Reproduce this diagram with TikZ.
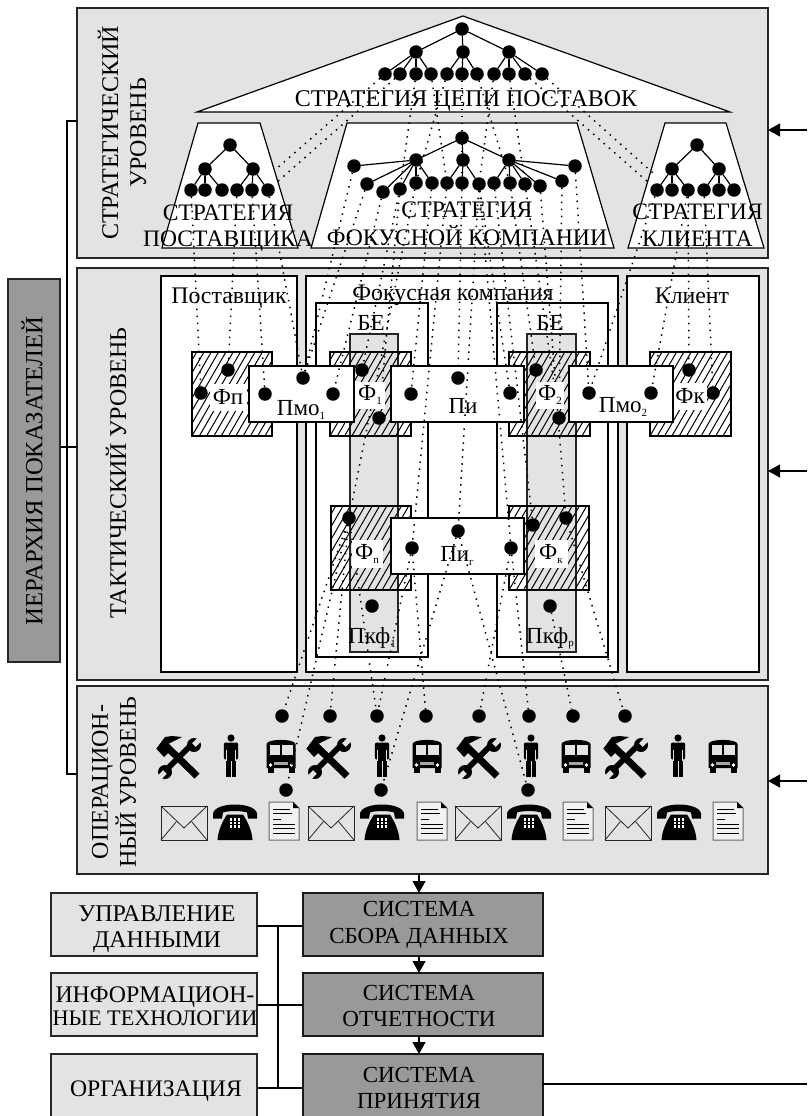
\documentclass[tikz,border=0pt]{standalone}
\usepackage{fontspec}
\setmainfont{Liberation Serif}
\usetikzlibrary{arrows.meta}
\pgfdeclarelayer{la}\pgfdeclarelayer{lb}\pgfdeclarelayer{lc}
\pgfsetlayers{la,lb,lc,main}
\definecolor{pang}{HTML}{E3E3E3}
\definecolor{darkg}{HTML}{999999}
\newcommand{\sbs}[1]{\raisebox{-3.5pt}{\fontsize{11}{11}\selectfont #1}}
\newcommand{\fs}[1]{\fontsize{#1}{#1}\selectfont}
\tikzset{
  box/.style={anchor=north west,inner sep=0,outer sep=0},
  panel/.style={box,draw=black!85,fill=pang,line width=1.5pt},
  whitebox/.style={box,draw=black,fill=white,line width=1.2pt},
  barbox/.style={box,draw=black!85,fill=pang,line width=1.2pt},
  hatchbox/.style={box,draw=black,line width=1.2pt,path picture={
    \foreach \k in {-8,...,12}{\draw[black,line width=1pt] ([xshift=\k*7.3pt]path picture bounding box.south west) -- ++(48.5,-84);}}},
  trapez/.style={draw=black,fill=white,line width=1.2pt},
  dot/.style={circle,fill=black,inner sep=0,outer sep=0,minimum size=13.5pt},
  link/.style={line width=1.5pt,draw=black,dash pattern=on 1.5pt off 5.5pt},
  tree/.style={line width=1.2pt,draw=black},
  solid line/.style={line width=1.2pt,draw=black},
  flow/.style={line width=1.2pt,draw=black,-{Triangle[length=12pt,width=13pt]}},
  txt/.style={inner sep=0,outer sep=0,align=center,font=\fs{23}},
  patch/.style={fill=white,inner sep=0,minimum width=31pt,minimum height=27pt,align=center,font=\fs{23}},
  lightbox/.style={box,draw=black!85,fill=pang,line width=1.2pt},
  darkbox/.style={box,draw=black!90,fill=darkg,line width=1.2pt},
  toolicon/.pic={
    \fill[black] (-9.5,-14.5) -- (21.5,15.5) -- (16.5,20.5) -- (-14.5,-9.5) -- cycle;
    \fill[black] (-21.7,-9.3) -- (-14,-1) -- (-7,-8) -- (-10,-14) -- (4,-21) -- (-6,-22) -- (-13,-21) -- cycle;
    \fill[black] (-15,11) -- (11,-15) -- (15,-11) -- (-11,15) -- cycle;
    \fill[black] (16,-13) circle[radius=7pt];
    \fill[black] (-13,14) circle[radius=7pt];
    \fill[pang] (14.2,-14.8) -- (17.8,-11.2) -- (25,-18.4) -- (21.4,-22) -- cycle;
    \fill[pang] (-11.2,15.8) -- (-14.8,12.2) -- (-22,19.4) -- (-18.4,23) -- cycle;
  },
  personicon/.pic={
    \fill[black] (0,-17.5) circle[radius=3.6pt];
    \fill[black,rounded corners=2pt] (-7.2,-13) rectangle (7.2,4);
    \fill[black] (-4.6,0) rectangle (4.6,21.5);
    \draw[pang,line width=.7pt] (-4.4,-6) -- (-4.4,5);
    \draw[pang,line width=.7pt] (4.4,-6) -- (4.4,5);
    \draw[pang,line width=.8pt] (0,5) -- (0,21.5);
  },
  busicon/.pic={
    \fill[black] (-14.5,-12) .. controls (-14,-17.5) and (14,-17.5) .. (14.5,-12) -- (14.5,12) -- (-14.5,12) -- cycle;
    \fill[black] (-13.5,11) rectangle (-7.5,16.5);
    \fill[black] (7.5,11) rectangle (13.5,16.5);
    \fill[pang] (-11.5,-11) rectangle (-1,-1.5);
    \fill[pang] (1,-11) rectangle (11.5,-1.5);
    \fill[black!35] (-7,6) rectangle (7,9);
    \fill[white] (-10.5,9) circle[radius=1.8pt];
    \fill[white] (10.5,9) circle[radius=1.8pt];
  },
  envicon/.pic={
    \draw[black!85,line width=1pt] (-23,-17) rectangle (23,17);
    \draw[black!85,line width=.8pt] (-23,-17) -- (0,5) -- (23,-17);
    \draw[black!85,line width=.8pt] (-23,17) -- (-7.5,-1.5);
    \draw[black!85,line width=.8pt] (23,17) -- (7.5,-1.5);
  },
  phoneicon/.pic={
    \fill[black] (-22,-9) .. controls (-20,-21) and (20,-21) .. (22,-9) -- (22,-4) -- (13,-4) -- (12,-10) .. controls (6,-12) and (-6,-12) .. (-12,-10) -- (-13,-4) -- (-22,-4) -- cycle;
    \fill[black] (-8,-8) -- (8,-8) .. controls (12,-2) and (17,8) .. (17.5,17.5) -- (-17.5,17.5) .. controls (-17,8) and (-12,-2) .. (-8,-8) -- cycle;
    \foreach \i in {-4,0,4}{\foreach \j in {-3,0.5,4}{\fill[white] (\i-1.2,\j-1.1) rectangle (\i+1.2,\j+1.1);}}
  },
  docicon/.pic={
    \draw[black!60,fill=black!5,line width=1pt] (-15,-19) -- (9,-19) -- (15,-13) -- (15,19) -- (-15,19) -- cycle;
    \fill[black] (9,-19) -- (15,-13) -- (9,-13) -- cycle;
    \foreach \y/\e in {-12/6,-7.3/8,-2/-3,3.7/11,7.7/11,12/11}{\draw[black,line width=1pt] (-11,\y) -- (\e,\y);}
  }
}
\begin{document}
\begin{tikzpicture}[x=1pt,y=-1pt]
\useasboundingbox (0,0) rectangle (807,1116);

% ---- all dots
\foreach \n/\x/\y in {
  c0/462/29, ca/416/52, cb/463/52, cc/509/52,
  c1/385/74,c2/400/74,c3/416/74,c4/431/74,c5/447/74,c6/462/74,c7/477/74,c8/494/74,c9/509/74,c10/525/74,c11/542/74,
  s0/230/145, sa/205/169, sb/253/169,
  s1/191/190,s2/205/190,s3/222/190,s4/237/190,s5/252/190,s6/268/190,
  k0/697/145, ka/672/169, kb/719/169,
  k1/657/190,k2/672/190,k3/688/190,k4/704/190,k5/719/190,k6/734/190,
  f0/462/138, fx/416/160, fy/463/160, fz/509/160,
  fA/354/166,fB/367/184,fC/383/192,fD/400/189,fE/416/183,fF/432/183,fG/447/183,fH/462/183,fI/479/184,fJ/494/183,fK/510/183,fL/525/184,fM/540/186,fN/562/181,fO/575/166,
  fpa/228/370, fpb/201/393, pa1/303/378, pa2/265/394, pa3/333/394,
  fa1/362/370, fa2/379/418, pi1/411/394, pi2/458/378, pi3/510/393,
  fb1/536/370, fb2/559/418, pb1/589/393, pb2/651/393, fk1/689/370, fk2/713/393,
  fn/349/518, fq1/533/525, fq2/566/518, pg1/458/531, pg2/412/548, pg3/511/548,
  pk1/372/606, pk2/550/606,
  o1/282/716,o2/330/716,o3/377/716,o4/426/716,o5/479/716,o6/529/716,o7/573/716,o8/625/716,
  q1/286/790,q2/381/790,q3/528/790}
  {\node[dot] (\n) at (\x,\y) {};}

% ---- solid tree edges
\foreach \a/\b in {c0/ca,c0/cb,c0/cc,ca/c1,ca/c2,ca/c3,ca/c4,cb/c5,cb/c6,cb/c7,cc/c8,cc/c9,cc/c10,cc/c11,
  s0/sa,s0/sb,sa/s1,sa/s2,sa/s3,sb/s4,sb/s5,sb/s6,
  k0/ka,k0/kb,ka/k1,ka/k2,ka/k3,kb/k4,kb/k5,kb/k6,
  f0/fx,f0/fy,f0/fz,fx/fA,fx/fB,fx/fC,fx/fD,fx/fE,fx/fF,fy/fG,fy/fH,fy/fI,fz/fJ,fz/fK,fz/fL,fz/fM,fz/fN,fz/fO}
  {\draw[tree] (\a) -- (\b);}

% ---- dotted links
\foreach \a/\b in {
  c3/fD,c4/fG,c5/fE,c6/fH,c7/fK,c8/fI,c9/fL,
  s1/fpb,s4/fpa,s5/pa2,s6/pa1,
  k1/pb1,k3/pb2,k3/fk1,k4/fk2,
  fA/pa1,fB/pa1,fC/pa3,fD/fa1,fD/fa2,fE/fn,fF/pi1,fG/pg2,fH/pi2,fI/pg1,fI/pi3,fI/pg3,fJ/fq1,fK/fb1,fL/fb2,fM/fq2,fN/fb2,fO/pb1,
  fn/o1,fn/o2,fn/o3,fn/q1,pg2/o3,pg2/o4,pg3/o5,pg3/o6,pk2/o7,fq2/o8,pg1/q2,pg1/q3}
  {\draw[link] (\a) -- (\b);}
\draw[link,shorten >=16pt] (c11) -- (k2);

% ---- links that the trapezoids hide
\begin{pgfonlayer}{lb}
  \draw[link] (c1) -- (s5);
  \draw[link] (c2) -- (s6);
  \draw[link] (c10) -- (k1);
\end{pgfonlayer}

% ---- panels
\begin{pgfonlayer}{la}
  \node[panel,minimum width=691pt,minimum height=250pt] (panS) at (77,8) {};
  \node[panel,minimum width=691pt,minimum height=412pt] (panT) at (77,268) {};
  \node[panel,minimum width=691pt,minimum height=188pt] (panO) at (77,686) {};
  \draw[trapez] (197,112) -- (463,16) -- (730,112) -- cycle;
  \node[box,draw=black!85,fill=darkg,line width=1.2pt,minimum width=52pt,minimum height=383pt] (hier) at (8,279) {};
  \coordinate (hy) at (67,447);
  \coordinate (hs) at (67,121);
  \coordinate (ho) at (67,774);
  \draw[solid line] (panS.west|-hs) -- (hs) -- (ho) -- (panO.west|-ho);
  \draw[solid line] (hier.east|-hy) -- (panT.west|-hy);
  \coordinate (as) at (807,130);
  \coordinate (at) at (807,471);
  \coordinate (ao) at (807,781);
  \draw[flow] (as) -- (panS.east|-as);
  \draw[flow] (at) -- (panT.east|-at);
  \draw[flow] (ao) -- (panO.east|-ao);
\end{pgfonlayer}

% ---- trapezoids, boxes, icons
\begin{pgfonlayer}{lc}
  \draw[trapez] (162,248) -- (198,123) -- (260,123) -- (298,248) -- cycle;
  \draw[trapez] (311,248) -- (347,123) -- (577,123) -- (614,248) -- cycle;
  \draw[trapez] (628,248) -- (665,123) -- (726,123) -- (764,248) -- cycle;
  \node[whitebox,minimum width=136pt,minimum height=396pt] (wS) at (161,276) {};
  \node[whitebox,minimum width=312pt,minimum height=396pt] (wF) at (306,276) {};
  \node[whitebox,minimum width=132pt,minimum height=396pt] (wK) at (627,276) {};
  \node[whitebox,minimum width=112pt,minimum height=354pt] (be1) at (316,303) {};
  \node[whitebox,minimum width=111pt,minimum height=354pt] (be2) at (497,303) {};
  \node[barbox,minimum width=48pt,minimum height=318pt] (bar1) at (350,334) {};
  \node[barbox,minimum width=49pt,minimum height=318pt] (bar2) at (527,334) {};
  \node[hatchbox,minimum width=80pt,minimum height=84pt] (hFp) at (192,352) {};
  \node[hatchbox,minimum width=81pt,minimum height=84pt] (hF1) at (330,352) {};
  \node[hatchbox,minimum width=81pt,minimum height=84pt] (hF2) at (509,352) {};
  \node[hatchbox,minimum width=81pt,minimum height=84pt] (hFk) at (650,352) {};
  \node[hatchbox,minimum width=80pt,minimum height=84pt] (hFn) at (331,506) {};
  \node[hatchbox,minimum width=80pt,minimum height=84pt] (hFq) at (509,506) {};
  \node[whitebox,minimum width=105pt,minimum height=56pt] (bP1) at (249,366) {};
  \node[whitebox,minimum width=133pt,minimum height=56pt] (bPi) at (391,366) {};
  \node[whitebox,minimum width=104pt,minimum height=56pt] (bP2) at (569,366) {};
  \node[whitebox,minimum width=133pt,minimum height=56pt] (bPg) at (391,518) {};
  \foreach \x in {178,328,478,625}{\pic at (\x,758) {toolicon};}
  \foreach \x in {231,382,531,678}{\pic at (\x,755.5) {personicon};}
  \foreach \x in {281,427,576,723}{\pic at (\x,756) {busicon};}
  \foreach \x in {184,331,478,628}{\pic at (\x,823) {envicon};}
  \foreach \x in {235,382,529,679}{\pic at (\x,822.5) {phoneicon};}
  \foreach \x in {284,432,578,728}{\pic at (\x,821) {docicon};}
\end{pgfonlayer}

% ---- lower block
\node[lightbox,minimum width=206pt,minimum height=63pt] (dm) at (51,893) {};
\node[lightbox,minimum width=206pt,minimum height=63pt] (it) at (51,973) {};
\node[darkbox,minimum width=240pt,minimum height=63pt] (sd) at (303,893) {};
\node[darkbox,minimum width=240pt,minimum height=63pt] (so) at (303,973) {};
\fill[pang] (51,1054) rectangle (257,1116);
\fill[darkg] (303,1054) rectangle (543,1116);
\draw[line width=1.2pt,draw=black!85] (51,1116) -- (51,1054) -- (257,1054) -- (257,1116);
\draw[line width=1.2pt,draw=black!90] (303,1116) -- (303,1054) -- (543,1054) -- (543,1116);
\coordinate (og) at (257,1088);
\coordinate (sp) at (303,1088);
\coordinate (spt) at (419,1054);
\coordinate (spr) at (543,1084);
\coordinate (spe) at (807,1084);
\coordinate (j1) at (278,926);
\coordinate (j2) at (278,1005);
\coordinate (j3) at (278,1088);
\draw[solid line] (dm.east|-j1) -- (sd.west|-j1);
\draw[solid line] (it.east|-j2) -- (so.west|-j2);
\draw[solid line] (og) -- (sp);
\draw[solid line] (j1) -- (j3);
\draw[solid line] (spr) -- (spe);
\draw[flow] (panO.south-|spt) -- (sd.north-|spt);
\draw[flow] (sd.south-|spt) -- (so.north-|spt);
\draw[flow] (so.south-|spt) -- (spt);

% ---- labels
\node[txt,font=\fs{24}] (tc) at (466,101.5) {СТРАТЕГИЯ ЦЕПИ ПОСТАВОК};
\node[txt,rotate=90,font=\fontsize{24}{28}\selectfont] (tS) at (122,133) {СТРАТЕГИЧЕСКИЙ\\УРОВЕНЬ};
\node[txt,rotate=90,font=\fs{24}] (tT) at (116,473) {ТАКТИЧЕСКИЙ УРОВЕНЬ};
\node[txt,rotate=90,font=\fontsize{24}{28}\selectfont] (tO) at (114,782) {ОПЕРАЦИОН-\\НЫЙ УРОВЕНЬ};
\node[txt,rotate=90,font=\fs{24.7}] (tH) at (32,471) {ИЕРАРХИЯ ПОКАЗАТЕЛЕЙ};
\node[txt,font=\fontsize{23.6}{26.5}\selectfont] (t1) at (228,228) {СТРАТЕГИЯ\\ПОСТАВЩИКА};
\node[txt,font=\fontsize{23.7}{28}\selectfont] (t2) at (467,224) {СТРАТЕГИЯ\\ФОКУСНОЙ КОМПАНИИ};
\node[txt,font=\fontsize{23.6}{27}\selectfont] (t3) at (697.5,225.5) {СТРАТЕГИЯ\\КЛИЕНТА};
\node[txt,font=\fs{23.8}] (l1) at (229,298) {Поставщик};
\node[txt,font=\fs{23.8}] (l2) at (453,295) {Фокусная компания};
\node[txt,font=\fs{23.8}] (l3) at (692,296) {Клиент};
\node[txt,font=\fs{23}] (b1) at (371,323) {БЕ};
\node[txt,font=\fs{23}] (b2) at (550,323) {БЕ};
\node[patch,minimum width=37pt] (xFp) at (228,397) {Фп};
\node[patch,minimum width=30pt] (xF1) at (370,395) {Ф\sbs{1}};
\node[patch,minimum width=28pt] (xF2) at (550,395) {Ф\sbs{2}};
\node[patch,minimum width=33pt] (xFk) at (690,396) {Фк};
\node[patch,minimum height=28pt] (xFn) at (367,554) {Ф\sbs{n}};
\node[patch,minimum width=33pt,minimum height=28pt] (xFq) at (551,554) {Ф\sbs{к}};
\node[txt] (xP1) at (301,410) {Пмо\sbs{1}};
\node[txt] (xPi) at (463,406) {Пи};
\node[txt] (xP2) at (623,407) {Пмо\sbs{2}};
\node[txt] (xPg) at (457,556) {Пи\sbs{г}};
\node[txt] (xK1) at (372,638) {Пкф\sbs{1}};
\node[txt] (xK2) at (550,638) {Пкф\sbs{p}};
\node[txt,font=\fontsize{24}{26.5}\selectfont] (tdm) at (157,929) {УПРАВЛЕНИЕ\\ДАННЫМИ};
\node[txt] (tit) at (155,1006) {{\fontsize{23.8}{26}\selectfont ИНФОРМАЦИОН-}\\{\fontsize{22.2}{26}\selectfont НЫЕ ТЕХНОЛОГИИ}};
\node[txt,font=\fs{23.7}] (tog) at (156,1091) {ОРГАНИЗАЦИЯ};
\node[txt,font=\fontsize{23}{26.5}\selectfont] (tsd) at (419,925) {СИСТЕМА\\СБОРА ДАННЫХ};
\node[txt,font=\fontsize{23}{26}\selectfont] (tso) at (419,1005.5) {СИСТЕМА\\ОТЧЕТНОСТИ};
\node[txt,font=\fontsize{23}{26}\selectfont] (tsp) at (419,1087.5) {СИСТЕМА\\ПРИНЯТИЯ};
\end{tikzpicture}
\end{document}
